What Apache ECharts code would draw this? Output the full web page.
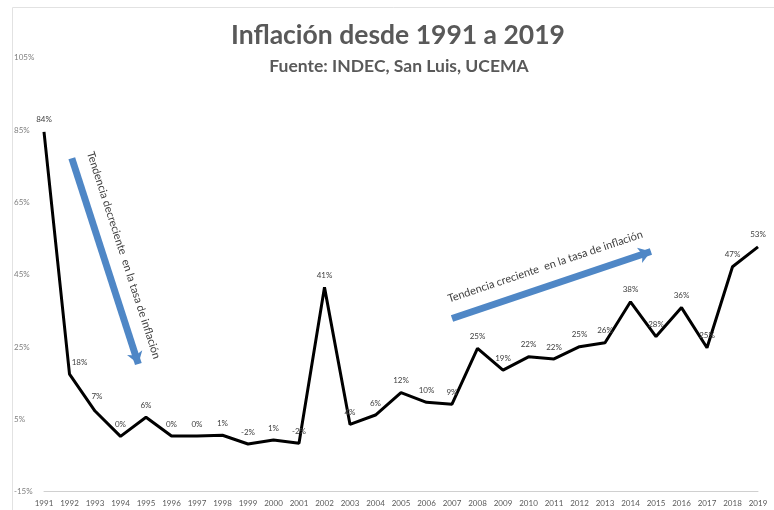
<!DOCTYPE html>
<html>
<head>
<meta charset="utf-8">
<script src="https://cdn.jsdelivr.net/npm/echarts@6/dist/echarts.min.js"></script>
<style>html,body{margin:0;padding:0;background:#fff;}#c{width:774px;height:510px;}</style>
</head>
<body>
<div id="c"></div>
<script>
const years = ['1991','1992','1993','1994','1995','1996','1997','1998','1999','2000','2001','2002','2003','2004','2005','2006','2007','2008','2009','2010','2011','2012','2013','2014','2015','2016','2017','2018','2019'];
const inflation = [84.5, 17.5, 7.3, 0.3, 5.6, 0.4, 0.4, 0.6, -1.8, -0.7, -1.6, 41.5, 3.6, 6.2, 12.4, 9.7, 9.2, 24.6, 18.6, 22.3, 21.7, 25.1, 26.2, 37.5, 27.9, 35.9, 24.8, 47.2, 52.7];
const pointLabels = ['84%','18%','7%','0%','6%','0%','0%','1%','-2%','1%','-2%','41%','4%','6%','12%','10%','9%','25%','19%','22%','22%','25%','26%','38%','28%','36%','25%','47%','53%'];
const yTicks = [-15, 5, 25, 45, 65, 85, 105];
const titleText = 'Inflación desde 1991 a 2019';
const subtitleText = 'Fuente: INDEC, San Luis, UCEMA';
// annotation arrows: [startIndex, startValue] -> [endIndex, endValue]
const arrowDown = [[1.09, 77.2], [3.70, 20.3]];
const arrowUp = [[16.0, 32.9], [23.8, 51.4]];
const arrowDownText = 'Tendencia decreciente  en la tasa de inflación';
const arrowUpText = 'Tendencia creciente  en la tasa de inflación';

const chart = echarts.init(document.getElementById('c'));
const arrowColor = '#4f87c6';
const txtFont = 'Lato, "Open Sans", sans-serif';
const labelShift = {1: {dx: 10, dy: 0}, 2: {dx: 2, dy: -3}};
chart.setOption({
  backgroundColor: '#fff',
  animation: false,
  title: [
    {text: titleText, left: 393, top: 17, textAlign: 'center',
     textStyle: {fontFamily: txtFont, fontWeight: 'bold', fontSize: 26.5, color: '#595959'}},
    {text: subtitleText, left: 394, top: 52, textAlign: 'center',
     textStyle: {fontFamily: txtFont, fontWeight: 'bold', fontSize: 17.5, color: '#595959'}}
  ],
  graphic: [{type: 'rect', shape: {x: 12.5, y: 7.5, width: 800, height: 520}, style: {fill: 'none', stroke: '#e2e2e2', lineWidth: 1}, silent: true}],
  grid: {left: 44, right: 16, top: 57.7, bottom: 18.3},
  xAxis: [
    {type: 'category', data: years, boundaryGap: false,
     axisLine: {show: true, onZero: false, lineStyle: {color: '#d0d0d0'}}, axisTick: {show: false},
     axisLabel: {fontSize: 8, color: '#595959', margin: 8, fontFamily: txtFont, interval: 0}},
    {type: 'value', min: 0, max: 28, show: false}
  ],
  yAxis: {type: 'value', min: -15, max: 105, interval: 20,
    splitLine: {show: false}, axisLine: {show: false}, axisTick: {show: false},
    axisLabel: {fontSize: 8, color: '#7f7f7f', align: 'left', margin: 30, fontFamily: txtFont, formatter: v => v + '%'}},
  series: [
    {type: 'line', data: inflation, symbol: 'circle', symbolSize: 2, showSymbol: true,
     itemStyle: {color: 'rgba(0,0,0,0)', borderWidth: 0}, lineStyle: {color: '#000', width: 3}, z: 3,
     label: {show: true, position: 'top', distance: 7, fontSize: 8, color: '#404040', fontFamily: txtFont,
       formatter: p => pointLabels[p.dataIndex]},
     labelLayout: p => Object.assign({hideOverlap: false}, labelShift[p.dataIndex] || {})},
    {type: 'line', xAxisIndex: 1, data: [], silent: true,
     markLine: {silent: true, symbol: ['none', 'arrow'], symbolSize: [12, 12], animation: false,
       lineStyle: {color: arrowColor, width: 7, type: 'solid'},
       label: {show: true, position: 'insideMiddleTop', distance: 14, fontSize: 11, color: '#404040', fontFamily: txtFont},
       data: [
         [{coord: arrowDown[0], label: {formatter: arrowDownText}}, {coord: arrowDown[1]}],
         [{coord: arrowUp[0], label: {formatter: arrowUpText}}, {coord: arrowUp[1]}]
       ]}}
  ]
});
</script>
</body>
</html>
